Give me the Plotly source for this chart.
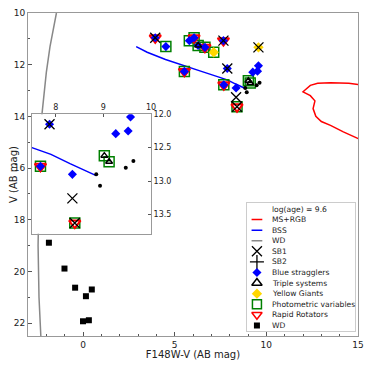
import plotly.graph_objects as go

# isochrone / sequences
ms_x = [15.2, 14.5, 13.5, 12.8, 12.4, 12.0, 12.4, 12.65, 12.55, 12.7, 13.0, 13.5, 14.2, 15.0, 15.2]
ms_y = [12.78, 12.72, 12.70, 12.72, 12.80, 13.05, 13.20, 13.40, 13.70, 14.00, 14.20, 14.35, 14.60, 14.85, 14.92]
bssline_x = [2.9, 3.5, 4.5, 5.5, 6.5, 7.5, 7.9, 8.3, 8.85]
bssline_y = [11.30, 11.52, 11.80, 12.02, 12.27, 12.50, 12.60, 12.74, 12.92]
wdline_x = [-1.45, -1.8, -2.0, -2.25, -2.4, -2.45, -2.4, -2.3]
wdline_y = [10.0, 11.3, 12.3, 14.0, 17.0, 19.0, 21.0, 22.5]

# stars
bss_x = [3.94, 4.52, 5.53, 5.80, 6.06, 6.28, 6.65, 7.66, 7.87, 9.57, 9.52, 9.26, 7.68, 8.35]
bss_y = [10.96, 11.30, 12.26, 11.07, 10.96, 11.26, 11.33, 11.07, 12.15, 12.04, 12.25, 12.29, 12.78, 12.90]
sb1_x = [3.94, 7.66, 9.57, 7.87, 8.35, 8.40]
sb1_y = [10.96, 11.07, 11.33, 12.15, 13.26, 13.63]
triple_x = [6.28, 9.02, 9.12]
triple_y = [11.26, 12.62, 12.71]
yellow_x = [7.13, 9.57]
yellow_y = [11.52, 11.33]
phot_x = [4.52, 5.53, 5.80, 6.06, 6.28, 6.65, 7.13, 7.68, 9.02, 9.12, 8.40]
phot_y = [11.30, 12.26, 11.07, 10.96, 11.26, 11.33, 11.52, 12.78, 12.62, 12.71, 13.63]
rot_x = [3.94, 5.53, 6.06, 6.65, 7.66, 7.68, 8.40]
rot_y = [10.96, 12.26, 10.96, 11.33, 11.07, 12.78, 13.63]
dot_x = [8.85, 8.93, 9.47, 9.63]
dot_y = [12.90, 13.07, 12.80, 12.70]
wd_x = [-1.86, -1.01, -0.43, 0.48, 0.16, 0.00, 0.32]
wd_y = [18.89, 19.89, 20.63, 20.70, 20.96, 21.93, 21.89]

legend_labels = ['log(age) = 9.6', 'MS+RGB', 'BSS', 'WD', 'SB1', 'SB2', 'Blue stragglers',
                 'Triple systems', 'Yellow Giants', 'Photometric variables', 'Rapid Rotators', 'WD']

fig = go.Figure()

def add_all(xa, ya):
    def sc(x, y, **kw):
        fig.add_trace(go.Scatter(x=x, y=y, xaxis=xa, yaxis=ya, showlegend=False,
                                 hoverinfo='skip', **kw))
    sc(ms_x, ms_y, mode='lines', line=dict(color='red', width=1.5))
    sc(bssline_x, bssline_y, mode='lines', line=dict(color='blue', width=1.5))
    sc(wdline_x, wdline_y, mode='lines', line=dict(color='#888', width=1.5))
    sc(phot_x, phot_y, mode='markers',
       marker=dict(symbol='square-open', size=10, color='green', line=dict(width=1.5)))
    sc(rot_x, rot_y, mode='markers',
       marker=dict(symbol='triangle-down-open', size=10, color='red', line=dict(width=2)))
    sc(bss_x, bss_y, mode='markers', marker=dict(symbol='diamond', size=7, color='blue', line=dict(width=0)))
    sc(yellow_x, yellow_y, mode='markers', marker=dict(symbol='diamond', size=8, color='gold', line=dict(width=0)))
    sc(triple_x, triple_y, mode='markers',
       marker=dict(symbol='triangle-up-open', size=6, color='black', line=dict(width=1.5)))
    sc(sb1_x, sb1_y, mode='markers',
       marker=dict(symbol='x-thin-open', size=10, color='black', line=dict(width=1.3, color='black')))
    sc(dot_x, dot_y, mode='markers', marker=dict(size=4, color='black'))
    sc(wd_x, wd_y, mode='markers', marker=dict(symbol='square', size=6, color='black'))

add_all('x', 'y')
add_all('x2', 'y2')

# custom legend on a hidden axis pair
rows = list(range(len(legend_labels)))
lg = dict(xaxis='x3', yaxis='y3', showlegend=False, hoverinfo='skip')
for r, col in [(1, 'red'), (2, 'blue'), (3, '#888')]:
    fig.add_trace(go.Scatter(x=[5, 16], y=[rows[r]] * 2, mode='lines', line=dict(color=col, width=1.5), **lg))
glyphs = [
    (4, dict(symbol='x-thin-open', size=10, color='black', line=dict(width=1.3, color='black'))),
    (5, dict(symbol='cross-thin-open', size=10, color='black', line=dict(width=1.3, color='black'))),
    (6, dict(symbol='diamond', size=7, color='blue')),
    (7, dict(symbol='triangle-up-open', size=9, color='black', line=dict(width=1.5))),
    (8, dict(symbol='diamond', size=8, color='gold')),
    (9, dict(symbol='square-open', size=9, color='green', line=dict(width=1.5))),
    (10, dict(symbol='triangle-down-open', size=9, color='red', line=dict(width=1.5))),
    (11, dict(symbol='square', size=6, color='black')),
]
for r, m in glyphs:
    fig.add_trace(go.Scatter(x=[10.5], y=[rows[r]], mode='markers', marker=m, **lg))
for r, t in zip(rows, legend_labels):
    fig.add_annotation(x=24, y=r, xref='x3', yref='y3', text=t, showarrow=False,
                       xanchor='left', yanchor='middle', font=dict(size=7.6, color='#222'))

tickfont = dict(family='DejaVu Sans', size=9, color='#222')
common = dict(showgrid=False, zeroline=False, showline=True, mirror=True, linecolor='#999',
              ticks='inside', tickcolor='#555', tickfont=tickfont, automargin=False)
insetfont = dict(family='DejaVu Sans', size=8, color='#222')

# the page body adds an 8px offset, so the figure is sized to fit the window without scrolling
fig.update_layout(
    width=358, height=352,
    margin=dict(l=20, r=8, t=5, b=24),
    paper_bgcolor='white', plot_bgcolor='white',
    showlegend=False,
    font=dict(family='DejaVu Sans', color='#222'),
    xaxis=dict(range=[-3, 15], tickvals=[0, 5, 10, 15], ticklen=4,
               minor=dict(dtick=1, ticks='inside', ticklen=2, tickcolor='#555'),
               title=dict(text='F148W-V (AB mag)', font=dict(size=10), standoff=1), **common),
    yaxis=dict(range=[22.5, 10], tickvals=[10, 12, 14, 16, 18, 20, 22], ticklen=4,
               minor=dict(dtick=1, ticks='inside', ticklen=2, tickcolor='#555'),
               title=dict(text='V (AB mag)', font=dict(size=10), standoff=1), **common),
    xaxis2=dict(domain=[0.0118, 0.3728], anchor='y2', range=[7.5, 10], tickvals=[8, 9, 10],
                side='top', ticklen=3, **{**common, 'tickfont': insetfont}),
    yaxis2=dict(domain=[0.3166, 0.6864], anchor='x2', range=[13.79, 12.0],
                tickvals=[12.0, 12.5, 13.0, 13.5], tickformat='.1f', side='right', ticklen=3,
                **{**common, 'tickfont': insetfont}),
    xaxis3=dict(domain=[0.6627, 0.9911], anchor='y3', range=[0, 111], automargin=False,
                showticklabels=False, ticks='', showgrid=False, zeroline=False,
                showline=True, mirror=True, linecolor='#ccc'),
    yaxis3=dict(domain=[0.0148, 0.4112], anchor='x3', range=[11.55, -0.55], automargin=False,
                showticklabels=False, ticks='', showgrid=False, zeroline=False,
                showline=True, mirror=True, linecolor='#ccc'),
)

fig.write_html("out.html")
